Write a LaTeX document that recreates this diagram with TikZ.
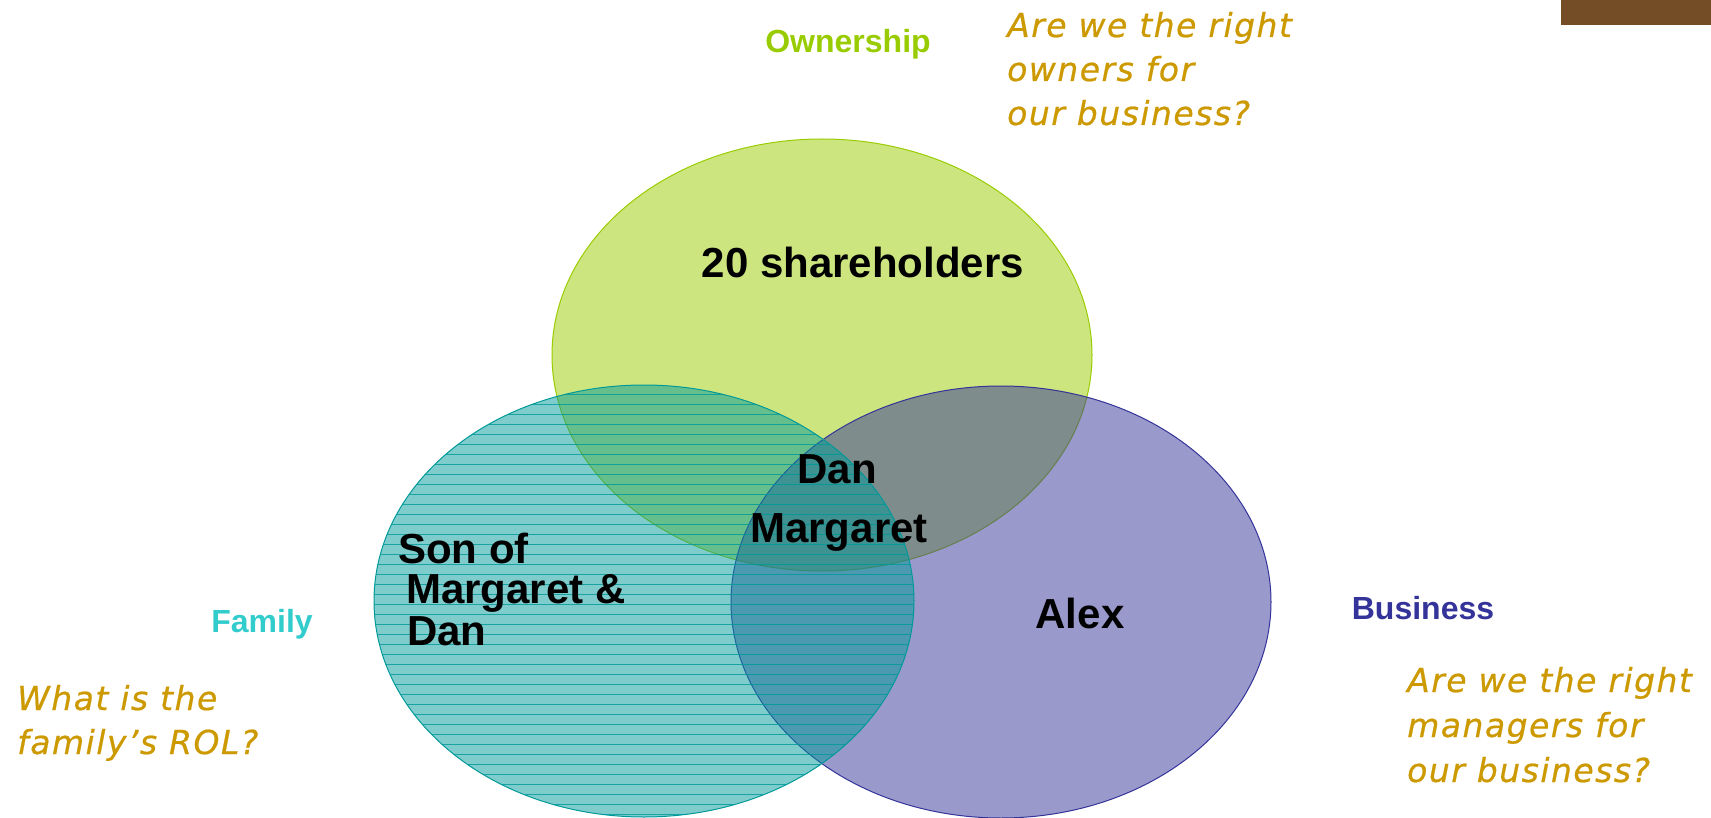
\documentclass[tikz,border=0pt]{standalone}
\usepackage{fontspec}
\setmainfont{Liberation Sans}
\newfontfamily\qfont[LetterSpace=4.5, FakeBold=0.6]{DejaVu Sans}
\usetikzlibrary{shapes.geometric}

\definecolor{ownc}{HTML}{99CC00}
\definecolor{busc}{HTML}{333399}
\definecolor{famc}{HTML}{009999}
\definecolor{famlab}{HTML}{33CCCC}
\definecolor{quotec}{HTML}{CC9900}
\definecolor{barc}{HTML}{744D26}

\tikzset{
  setc/.style={ellipse, minimum width=540pt, minimum height=432pt, inner sep=0pt,
               line width=1pt, fill opacity=0.5, draw opacity=1},
  hatch/.style={draw=famc, draw opacity=0.8, line width=1pt},
  who/.style={font=\bfseries\fontsize{42}{41}\selectfont, text=black, inner sep=0pt},
  setlabel/.style={font=\bfseries\fontsize{32}{36}\selectfont, inner sep=0pt},
  question/.style={font=\qfont\itshape\fontsize{33}{44}\selectfont, text=quotec,
                   anchor=base west, inner sep=0pt}
}

\begin{document}
\begin{tikzpicture}[x=1pt, y=-1pt]
  \useasboundingbox (0,0) rectangle (1711,818);

  % corner bar
  \fill[barc] (1561,0) rectangle (1711,25);

  % the three overlapping sets
  \node[setc, draw=ownc, fill=ownc] (own) at (822,355) {};
  \node[setc, draw=busc, fill=busc] (bus) at (1001,602) {};
  \node[setc, draw=famc, fill=famc,
        path picture={
          \foreach \i in {0,...,43}
            \draw[hatch] ([yshift=-(9+10*\i)*1pt]path picture bounding box.north west)
                      -- ([yshift=-(9+10*\i)*1pt]path picture bounding box.north east);
        }] (fam) at (644,601) {};

  % set labels
  \node[setlabel, text=ownc] (ownlab) at (848,44) {Ownership};
  \node[setlabel, text=famlab] (famlab) at (262,624) {Family};
  \node[setlabel, text=busc] (buslab) at (1423,608) {Business};

  % members
  \node[who] (share) at (863,262) {20 shareholders};
  \node[who] (dan) at (837,469) {Dan};
  \node[who] (marg) at (839,532) {Margaret};
  \node[who] (alex) at (1080,613) {Alex};
  \node[who, anchor=base west] (son1) at (398,563) {Son of};
  \node[who, anchor=base west] (son2) at (406,603) {Margaret \&};
  \node[who, anchor=base west] (son3) at (407,645) {Dan};

  % questions
  \node[question] (oq1) at (1007,37) {Are we the right};
  \node[question] (oq2) at (1007,81) {owners for};
  \node[question] (oq3) at (1007,125) {our business?};

  \node[question] (fq1) at (17,710) {What is the};
  \node[question] (fq2) at (17,754) {family’s ROL?};

  \node[question] (bq1) at (1407,692) {Are we the right};
  \node[question] (bq2) at (1407,737) {managers for};
  \node[question] (bq3) at (1407,782) {our business?};
\end{tikzpicture}
\end{document}
